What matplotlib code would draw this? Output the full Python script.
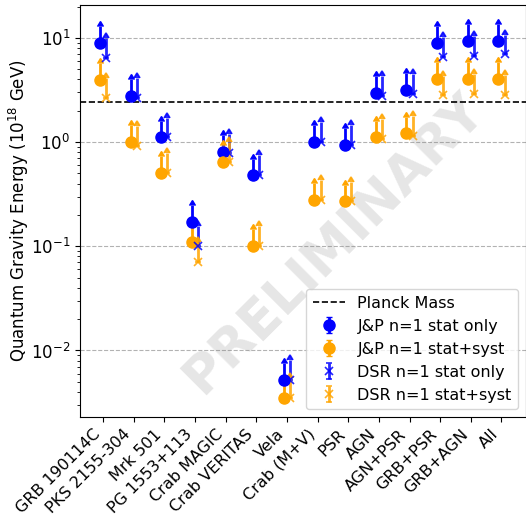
import matplotlib
matplotlib.use("Agg")
import matplotlib.pyplot as plt
import numpy as np

sources = ["GRB 190114C", "PKS 2155-304", "Mrk 501", "PG 1553+113", "Crab MAGIC",
           "Crab VERITAS", "Vela", "Crab (M+V)", "PSR", "AGN", "AGN+PSR",
           "GRB+PSR", "GRB+AGN", "All"]

# lower limits on E_QG in units of 1e18 GeV
jp_stat = [9.0, 2.77, 1.11, 0.171, 0.80, 0.48, 0.0052, 1.0, 0.94, 2.99, 3.17, 9.0, 9.36, 9.3]
jp_syst = [3.95, 1.0, 0.505, 0.11, 0.65, 0.10, 0.0035, 0.28, 0.27, 1.11, 1.21, 4.07, 4.07, 4.07]
dsr_stat = [6.46, 2.64, 1.11, 0.10, 0.78, 0.48, 0.0052, 1.0, 0.94, 2.77, 2.92, 6.56, 6.7, 6.95]
dsr_syst = [2.68, 0.92, 0.505, 0.071, 0.64, 0.10, 0.0035, 0.28, 0.27, 1.07, 1.15, 2.81, 2.88, 2.84]

planck_mass = 2.4

x = np.arange(len(sources))

fig = plt.figure(figsize=(5.26, 5.16), dpi=100)
ax = fig.add_axes([80/526, 1 - 417/516, 446/526, 412/516])

def limits(ax, xs, ys, fmt, color, label, ms, mew, frac, alpha=1.0):
    ys = np.array(ys)
    ax.errorbar(xs, ys, yerr=frac*ys, lolims=True, fmt=fmt, color=color,
                ms=ms, elinewidth=2, mew=mew, capsize=2.5, alpha=alpha, label=label)

limits(ax, x - 0.1, jp_stat, 'o', 'blue', 'J&P n=1 stat only', 8, 1, 0.45)
limits(ax, x - 0.1, jp_syst, 'o', 'orange', 'J&P n=1 stat+syst', 8, 1, 0.45)
limits(ax, x + 0.1, dsr_stat, 'x', 'blue', 'DSR n=1 stat only', 6, 1.2, 0.55, alpha=0.85)
limits(ax, x + 0.1, dsr_syst, 'x', 'orange', 'DSR n=1 stat+syst', 6, 1.2, 0.55, alpha=0.85)

ax.axhline(planck_mass, color='k', ls='--', lw=1.2, label='Planck Mass')

ax.set_yscale('log')
ax.set_ylim(0.0023, 20.7)
ax.set_xlim(-0.75, 13.8)
ax.grid(axis='y', which='major', ls='--', color='gray', alpha=0.6, lw=0.8)
ax.set_xticks(x)
ax.set_xticklabels(sources, rotation=45, ha='right', fontsize=11.5)
ax.tick_params(axis='y', labelsize=12)
ax.set_ylabel(r'Quantum Gravity Energy ($10^{18}$ GeV)', fontsize=12)
ax.yaxis.set_label_coords(-0.11, 0.5)

ax.legend(loc='lower right', fontsize=11.5)

ax.text(0.57, 0.42, 'PRELIMINARY', transform=ax.transAxes, rotation=45,
        fontsize=38, fontweight='bold', color='gray', alpha=0.2,
        ha='center', va='center', zorder=0)

plt.savefig('out.png', dpi=100)
